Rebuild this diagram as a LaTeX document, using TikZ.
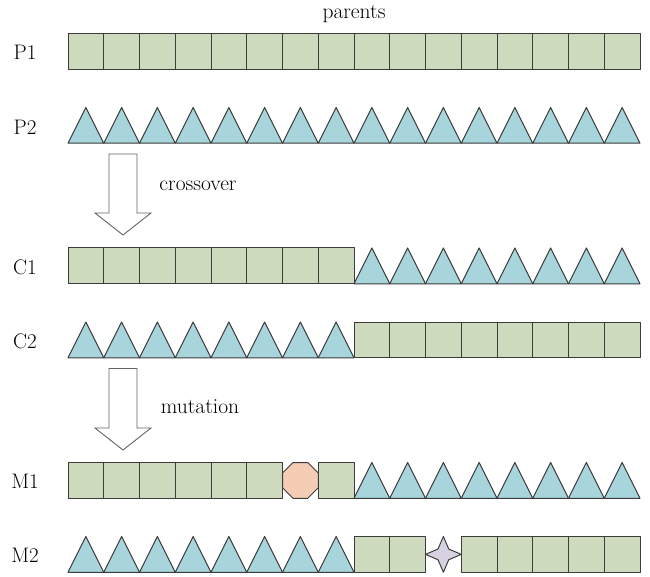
\documentclass[tikz,border=0pt]{standalone}
\usepackage{fontspec}
\usetikzlibrary{calc}
\definecolor{genegreen}{HTML}{CDDABD}
\definecolor{geneblue}{HTML}{A8D4DC}
\definecolor{genepeach}{HTML}{F5CDB5}
\definecolor{genelilac}{HTML}{D6D2E2}
\definecolor{edgegray}{HTML}{3C3C3C}
\begin{document}
\begin{tikzpicture}[x=1pt,y=-1pt,
  gene/.style={draw=edgegray,line width=1pt,line join=round},
  sqgene/.style={gene,fill=genegreen},
  trigene/.style={gene,fill=geneblue},
  octgene/.style={gene,fill=genepeach},
  stargene/.style={gene,fill=genelilac},
  blockarrow/.style={draw=edgegray!80,line width=0.9pt,fill=white,line join=miter},
  rowlabel/.style={font=\fontsize{21}{25}\selectfont,anchor=center,inner sep=0pt},
  steplabel/.style={font=\fontsize{21.5}{25}\selectfont,anchor=center,inner sep=0pt}]
\useasboundingbox (0,0) rectangle (650,577);
\def\cw{35.75}
\def\xo{68}
% square gene: #1 cell index, #2 row top
\newcommand\sqcell[2]{\path[sqgene] ({\xo+#1*\cw},#2) rectangle ++(\cw,\cw);}
% triangle gene
\newcommand\tricell[2]{\path[trigene] ({\xo+#1*\cw},{#2+\cw}) -- ++({\cw/2},-\cw) -- ++({\cw/2},\cw) -- cycle;}
% regular octagon filling one cell
\newcommand\octcell[2]{\pgfmathsetmacro\cc{\cw/(2+sqrt(2))}
  \path[octgene] ({\xo+#1*\cw+\cc},#2) -- ++({\cw-2*\cc},0) -- ++(\cc,\cc) -- ++(0,{\cw-2*\cc})
    -- ++(-\cc,\cc) -- ++({-(\cw-2*\cc)},0) -- ++(-\cc,-\cc) -- ++(0,{-(\cw-2*\cc)}) -- cycle;}
% four-pointed star filling one cell
\newcommand\starcell[2]{\coordinate (sc) at ({\xo+#1*\cw+\cw/2},{#2+\cw/2});
  \pgfmathsetmacro\ri{\cw*0.15}
  \path[stargene] ($(sc)+(0,-\cw/2)$) -- ($(sc)+(\ri,-\ri)$) -- ($(sc)+(\cw/2,0)$) -- ($(sc)+(\ri,\ri)$)
    -- ($(sc)+(0,\cw/2)$) -- ($(sc)+(-\ri,\ri)$) -- ($(sc)+(-\cw/2,0)$) -- ($(sc)+(-\ri,-\ri)$) -- cycle;}

% parents
\foreach \k in {0,...,15} {\sqcell{\k}{34}}
\foreach \k in {0,...,15} {\tricell{\k}{107.5}}
% children after crossover
\foreach \k in {0,...,7} {\sqcell{\k}{248}}
\foreach \k in {8,...,15} {\tricell{\k}{248}}
\foreach \k in {0,...,7} {\tricell{\k}{322}}
\foreach \k in {8,...,15} {\sqcell{\k}{322}}
% children after mutation
\foreach \k in {0,...,5,7} {\sqcell{\k}{462.5}}
\octcell{6}{462.5}
\foreach \k in {8,...,15} {\tricell{\k}{462.5}}
\foreach \k in {0,...,7} {\tricell{\k}{536.5}}
\foreach \k in {8,9,11,12,13,14,15} {\sqcell{\k}{536.5}}
\starcell{10}{536.5}

% block arrows
\path[blockarrow] (109,154) -- (137,154) -- (137,213) -- (151,213) -- (123,235) -- (95,213) -- (109,213) -- cycle;
\path[blockarrow] (109,368.5) -- (137,368.5) -- (137,428) -- (151,428) -- (123,450) -- (95,428) -- (109,428) -- cycle;

% labels
\node[steplabel] (parents) at (354,14) {parents};
\node[steplabel] (crossover) at (198,186) {crossover};
\node[steplabel] (mutation) at (200,407) {mutation};
\node[rowlabel] (p1) at (25,52) {P1};
\node[rowlabel] (p2) at (25,127) {P2};
\node[rowlabel] (c1) at (25,267) {C1};
\node[rowlabel] (c2) at (25,341) {C2};
\node[rowlabel] (m1) at (25,481) {M1};
\node[rowlabel] (m2) at (25,555) {M2};
\end{tikzpicture}
\end{document}
